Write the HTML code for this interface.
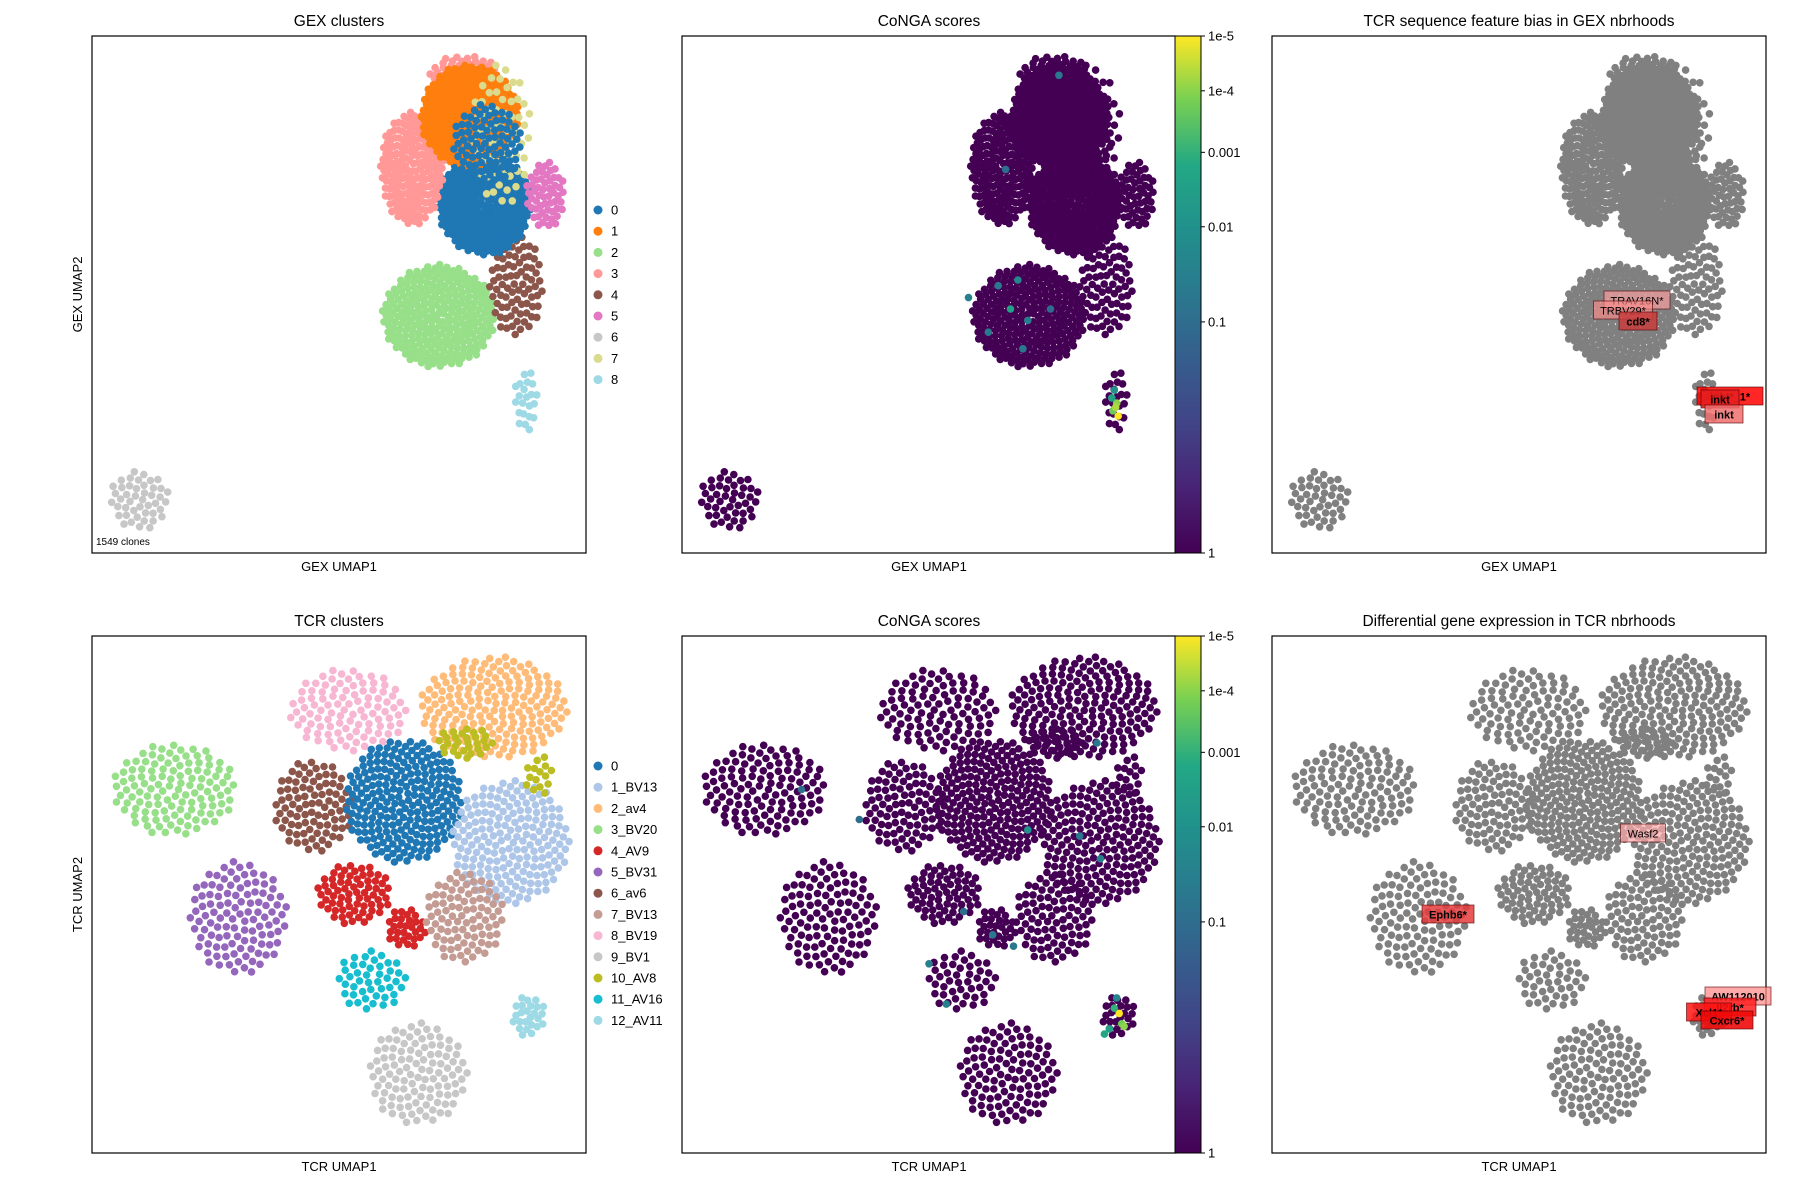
<!DOCTYPE html>
<html><head><meta charset="utf-8">
<style>
html,body{margin:0;padding:0;background:#fff;}
svg{display:block;font-family:"Liberation Sans","DejaVu Sans",sans-serif;}
</style></head>
<body>
<svg id="fig" width="1800" height="1200" viewBox="0 0 1800 1200" xmlns="http://www.w3.org/2000/svg">
<defs>
<linearGradient id="viridis" x1="0" y1="1" x2="0" y2="0">
<stop offset="0" stop-color="#440154"/><stop offset="0.13" stop-color="#482475"/>
<stop offset="0.25" stop-color="#414487"/><stop offset="0.38" stop-color="#355f8d"/>
<stop offset="0.5" stop-color="#2a788e"/><stop offset="0.63" stop-color="#21918c"/>
<stop offset="0.75" stop-color="#22a884"/><stop offset="0.88" stop-color="#7ad151"/>
<stop offset="1" stop-color="#fde725"/>
</linearGradient>
</defs>
</svg>
<script>
// ---------- GEX embedding blobs (data coords 0-100) ----------
const gexCluster = [6, 8, 2, 4, 0, 3, 3, 1, 7, 0, 5];
const gexCx      = [9.6, 87.8, 70.2, 85.9, 79.5, 64.8, 75.4, 76.5, 82.9, 80.0, 91.8];
const gexCy      = [10.3, 29.4, 45.8, 51.9, 67.5, 74.4, 92.4, 84.5, 81.1, 79.0, 69.2];
const gexRx      = [6.1, 2.5, 11.5, 5.5, 9.5, 6.5, 7, 10, 6, 7, 4];
const gexRy      = [5.8, 6, 10, 10, 10, 11, 4, 10, 14, 8, 6.5];
const gexN       = [45, 22, 260, 80, 260, 180, 60, 300, 60, 90, 55];
const gexColors  = ["#1f77b4","#ff7f0e","#98df8a","#ff9896","#8c564b","#e377c2","#c7c7c7","#dbdb8d","#9edae5"];
const gexLegend  = ["0","1","2","3","4","5","6","7","8"];

// ---------- TCR embedding blobs ----------
const tcrCluster = [3, 5, 6, 8, 0, 2, 1, 4, 4, 7, 11, 9, 12, 10, 10];
const tcrCx      = [16.7, 29.6, 44.8, 51.9, 63.1, 81.2, 84.7, 53.1, 63.6, 75.4, 56.6, 66, 88.3, 75.4, 90.6];
const tcrCy      = [70.3, 45.6, 67, 85.6, 68.1, 86.1, 60.2, 50.1, 43.4, 45.6, 33.3, 15.3, 26.5, 79.3, 73];
const tcrRx      = [12.5, 10, 8, 12, 12, 15, 12, 7.5, 4, 8, 7, 10, 3.5, 6, 3];
const tcrRy      = [9, 11, 9, 8, 12, 10, 12, 6, 4, 9, 6, 10, 4, 3, 4];
const tcrN       = [120, 110, 90, 100, 230, 190, 190, 70, 30, 90, 45, 110, 25, 30, 15];
const tcrColors  = ["#1f77b4","#aec7e8","#ffbb78","#98df8a","#d62728","#9467bd","#8c564b","#c49c94","#f7b6d2","#c7c7c7","#bcbd22","#17becf","#9edae5"];
const tcrLegend  = ["0","1_BV13","2_av4","3_BV20","4_AV9","5_BV31","6_av6","7_BV13","8_BV19","9_BV1","10_AV8","11_AV16","12_AV11"];

// ---------- CoNGA highlighted clones (p-values) ----------
const gexHiX = [87.5, 88.0, 87.2, 88.3, 87.0, 87.8, 58, 64, 68, 66.5, 62, 70, 74.6, 69, 76.3, 65.5];
const gexHiY = [31.5, 29.0, 27.5, 26.5, 30.0, 28.2, 49.4, 51.7, 52.8, 47.2, 42.7, 45.0, 47.2, 39.5, 92.4, 74.2];
const gexHiP = [0.01, 1e-4, 2e-4, 1e-5, 0.003, 5e-5, 0.03, 0.05, 0.02, 0.003, 0.05, 0.04, 0.1, 0.05, 0.05, 0.1];
const tcrHiX = [84.0, 80.5, 84.7, 57.0, 62.9, 50.0, 53.5, 67.1, 70.0, 24.2, 35.9, 88.5, 89, 87.5, 86.5, 85.5, 89.5, 88];
const tcrHiY = [79.3, 61.3, 56.9, 46.7, 42.2, 36.6, 28.8, 40.0, 62.5, 70.3, 64.5, 27, 25, 28, 24, 23, 24.5, 30];
const tcrHiP = [0.05, 0.05, 0.03, 0.1, 0.05, 0.03, 0.03, 0.05, 0.01, 0.1, 0.1, 1e-5, 2e-4, 0.001, 0.003, 0.002, 1e-4, 0.02];

// colorbar
const cbTickLabels = ["1","0.1","0.01","0.001","1e-4","1e-5"];
const cbTickVals   = [1, 0.1, 0.01, 0.001, 1e-4, 1e-5];
const cbTickFrac   = [0, 0.447, 0.631, 0.775, 0.894, 1];

const NS = "http://www.w3.org/2000/svg";
const svg = document.getElementById("fig");
function mk(tag, attrs, parent) {
  const e = document.createElementNS(NS, tag);
  for (const k in attrs) e.setAttribute(k, attrs[k]);
  (parent || svg).appendChild(e);
  return e;
}
function txt(s, attrs, parent) { const t = mk("text", attrs, parent); t.textContent = s; return t; }

const viridis = ["#440154","#482475","#414487","#355f8d","#2a788e","#21918c","#22a884","#7ad151","#fde725"];
function hex(c){return [parseInt(c.slice(1,3),16),parseInt(c.slice(3,5),16),parseInt(c.slice(5,7),16)];}
function vir(t){
  t=Math.max(0,Math.min(1,t)); const s=t*(viridis.length-1); const i=Math.min(viridis.length-2,Math.floor(s)); const f=s-i;
  const a=hex(viridis[i]), b=hex(viridis[i+1]);
  return "rgb("+a.map((v,k)=>Math.round(v+(b[k]-v)*f)).join(",")+")";
}
function pFrac(p){
  const l=Math.log10(p);
  for(let i=0;i<cbTickVals.length-1;i++){
    const a=Math.log10(cbTickVals[i]), b=Math.log10(cbTickVals[i+1]);
    if(l<=a && l>=b) return cbTickFrac[i]+(cbTickFrac[i+1]-cbTickFrac[i])*(a-l)/(a-b);
  }
  return l>0?0:1;
}

function blobPoints(cl, cx, cy, rx, ry, n) {
  const pts = [];
  for (let b = 0; b < cl.length; b++) {
    for (let i = 0; i < n[b]; i++) {
      const r = Math.sqrt((i + 0.5) / n[b]), th = i * 2.39996 + b;
      pts.push({x: cx[b] + rx[b] * r * Math.cos(th), y: cy[b] + ry[b] * r * Math.sin(th), c: cl[b]});
    }
  }
  return pts;
}
const gexPts = blobPoints(gexCluster, gexCx, gexCy, gexRx, gexRy, gexN);
const tcrPts = blobPoints(tcrCluster, tcrCx, tcrCy, tcrRx, tcrRy, tcrN);

const AW = 494, AH = 517;
function panel(name, x0, y0, title, xl, yl) {
  const g = mk("g", {});
  
  
  const t = txt(title, {x: x0 + AW/2, y: y0 - 10, "text-anchor": "middle", "font-size": 15.5, fill: "#000"}, g);
  
  
  const xt = txt(xl, {x: x0 + AW/2, y: y0 + AH + 18, "text-anchor": "middle", "font-size": 13, fill: "#000"}, g);
  
  
  if (yl) {
    const yt = txt(yl, {x: 0, y: 0, "text-anchor": "middle", "font-size": 13, fill: "#000", transform: "translate(" + (x0 - 10) + "," + (y0 + AH/2) + ") rotate(-90)"}, g);
    
    
  }
  const pg = mk("g", {}, g);
  
  
  const fr = mk("rect", {x: x0, y: y0, width: AW, height: AH, fill: "none", stroke: "#000", "stroke-width": 1.2}, g);
  
  
  return {g, pg, sx: v => x0 + v / 100 * AW, sy: v => y0 + AH - v / 100 * AH};
}
function dot(p, x, y, fill) {
  const c = mk("circle", {cx: x.toFixed(1), cy: y.toFixed(1), r: 3.8, fill: fill}, p);
  
  
}

const cols = [92, 682, 1272], rows = [36, 636];
function drawRow(row, pts, colors, hiX, hiY, hiP, emb, titles, legendLabels, legY) {
  let P = panel(emb.toLowerCase() + "-clusters-panel", cols[0], rows[row], titles[0], emb + " UMAP1", emb + " UMAP2");
  pts.forEach(p => dot(P.pg, P.sx(p.x), P.sy(p.y), colors[p.c]));
  const lg = mk("g", {}, P.g);
  
  
  legendLabels.forEach((l, i) => {
    const y = legY + i * 21.2;
    const e = mk("g", {}, lg);
    
    
    mk("circle", {cx: 598, cy: y, r: 4.5, fill: colors[i]}, e);
    txt(l, {x: 611, y: y + 4.5, "font-size": 13, fill: "#000"}, e);
  });
  if (row === 0) {
    const cl = txt("1549 clones", {x: 96, y: 545, "font-size": 10, fill: "#000"}, P.g);
    
    
  }
  P = panel(emb.toLowerCase() + "-conga-panel", cols[1], rows[row], titles[1], emb + " UMAP1", null);
  pts.forEach(p => dot(P.pg, P.sx(p.x), P.sy(p.y), "#440154"));
  hiX.forEach((v, i) => dot(P.pg, P.sx(v), P.sy(hiY[i]), vir(pFrac(hiP[i]))));
  const cb = mk("g", {});
  
  
  const cy0 = rows[row], cx0 = 1175, cw = 26;
  mk("rect", {x: cx0, y: cy0, width: cw, height: AH, fill: "url(#viridis)", stroke: "#000", "stroke-width": 1}, cb);
  cbTickLabels.forEach((l, i) => {
    const y = cy0 + AH - cbTickFrac[i] * AH;
    mk("line", {x1: cx0 + cw, x2: cx0 + cw + 4, y1: y, y2: y, stroke: "#000", "stroke-width": 1}, cb);
    const t = txt(l, {x: cx0 + cw + 7, y: y + 4.5, "font-size": 13, fill: "#000"}, cb);
    
    
  });
  P = panel(emb.toLowerCase() + "-bias-panel", cols[2], rows[row], titles[2], emb + " UMAP1", null);
  pts.forEach(p => dot(P.pg, P.sx(p.x), P.sy(p.y), "#808080"));
  return P;
}
drawRow(0, gexPts, gexColors, gexHiX, gexHiY, gexHiP, "GEX",
  ["GEX clusters", "CoNGA scores", "TCR sequence feature bias in GEX nbrhoods"], gexLegend, 210);
drawRow(1, tcrPts, tcrColors, tcrHiX, tcrHiY, tcrHiP, "TCR",
  ["TCR clusters", "CoNGA scores", "Differential gene expression in TCR nbrhoods"], tcrLegend, 766);

const ann = [
  ["TRAV16N*", 1637, 301, "rgba(255,160,160,0.65)", false],
  ["TRBV29*", 1623, 311, "rgba(255,140,140,0.65)", false],
  ["cd8*", 1638, 322, "rgba(200,60,60,0.85)", true],
  ["inkt*_1*", 1730, 397, "rgba(255,0,0,0.85)", true],
  ["inkt", 1720, 400, "rgba(230,30,30,0.85)", true],
  ["inkt", 1724, 415, "rgba(240,110,110,0.85)", true],
  ["Wasf2", 1643, 834, "rgba(255,170,170,0.7)", false],
  ["Ephb6*", 1448, 915, "rgba(230,60,60,0.85)", true],
  ["AW112010", 1738, 997, "rgba(255,140,140,0.75)", true],
  ["Il2rb*", 1730, 1008, "rgba(255,30,30,0.85)", true],
  ["Xcl1*", 1709, 1013, "rgba(255,20,20,0.85)", true],
  ["Cxcr6*", 1727, 1021, "rgba(240,10,10,0.9)", true]
];
ann.forEach(a => {
  const g = mk("g", {});
  
  
  const w = a[0].length * 7 + 10;
  mk("rect", {x: a[1] - w/2, y: a[2] - 10, width: w, height: 18, fill: a[3], stroke: "rgba(80,0,0,0.6)", "stroke-width": 1}, g);
  txt(a[0], {x: a[1], y: a[2] + 3.5, "text-anchor": "middle", "font-size": 11, "font-weight": a[4] ? "bold" : "normal", fill: "#000"}, g);
});
</script>
</body></html>
